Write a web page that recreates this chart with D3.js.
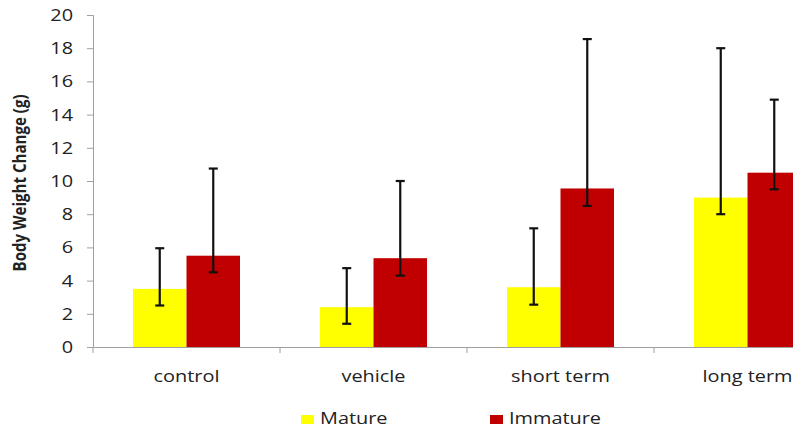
<!DOCTYPE html>
<html>
<head>
<meta charset="utf-8">
<script src="https://cdn.jsdelivr.net/npm/d3@7"></script>
<style>
  body { margin: 0; background: #fff; }
  text { font-family: "Open Sans", Lato, sans-serif; fill: #222; }
</style>
</head>
<body>
<div id="chart"></div>
<script>
// values
const categories = ["control", "vehicle", "short term", "long term"];
const series = ["Mature", "Immature"];
const colors = ["#ffff00", "#c00000"];
const mature = [3.5, 2.4, 3.6, 9.0];
const immature = [5.5, 5.35, 9.55, 10.5];
const matureLow = [2.5, 1.4, 2.55, 8.0];
const matureHigh = [5.95, 4.75, 7.15, 18.0];
const immatureLow = [4.5, 4.3, 8.5, 9.5];
const immatureHigh = [10.75, 10.0, 18.55, 14.9];
const yTicks = [0, 2, 4, 6, 8, 10, 12, 14, 16, 18, 20];

const width = 793, height = 430;
const stretch = 1.17; // the original text is a bit wide

const svg = d3.select("#chart").append("svg")
    .attr("width", width)
    .attr("height", height);

const x = d3.scaleBand()
    .domain(categories)
    .range([93, 841]);

const xs = d3.scaleBand()
    .domain(series)
    .range([40, x.bandwidth() - 40]);

const y = d3.scaleLinear()
    .domain([0, 20])
    .range([347, 15]);

const rows = categories.map((c, i) => [
    {cat: c, s: series[0], v: mature[i], lo: matureLow[i], hi: matureHigh[i], color: colors[0]},
    {cat: c, s: series[1], v: immature[i], lo: immatureLow[i], hi: immatureHigh[i], color: colors[1]}
]).flat();

// axes
const yAxis = svg.append("g")
    .attr("transform", "translate(93,0)")
    .call(d3.axisLeft(y).tickValues(yTicks).tickSize(6));
yAxis.select(".domain").attr("stroke", "#a0a0a0");
yAxis.selectAll(".tick line").attr("stroke", "#a0a0a0");
yAxis.selectAll(".tick text")
    .attr("x", -20 / stretch)
    .attr("transform", `scale(${stretch},1)`)
    .style("font-size", "17px").attr("fill", "#222");

// bars
svg.append("g").selectAll("rect")
    .data(rows)
    .join("rect")
    .attr("x", d => x(d.cat) + xs(d.s))
    .attr("width", xs.bandwidth())
    .attr("y", d => y(d.v))
    .attr("height", d => y(0) - y(d.v))
    .attr("fill", d => d.color);

const xAxis = svg.append("g")
    .attr("transform", "translate(0,347)")
    .call(d3.axisBottom(x).tickSize(0));
xAxis.select(".domain").attr("stroke", "#a0a0a0");
xAxis.selectAll(".tick text")
    .attr("y", 35).attr("dy", null)
    .attr("transform", `scale(${stretch},1)`)
    .style("font-size", "17px").attr("fill", "#222");

// category boundary ticks
svg.append("g").selectAll("line")
    .data(categories.concat(["end"]))
    .join("line")
    .attr("x1", (d, i) => x.range()[0] + i * x.bandwidth())
    .attr("x2", (d, i) => x.range()[0] + i * x.bandwidth())
    .attr("y1", 347)
    .attr("y2", 353)
    .attr("stroke", "#a0a0a0");

// error bars
const err = svg.append("g").attr("stroke", "#111").attr("stroke-width", 2.2);
rows.forEach(d => {
    const cx = x(d.cat) + xs(d.s) + xs.bandwidth() / 2;
    err.append("line").attr("x1", cx).attr("x2", cx).attr("y1", y(d.lo)).attr("y2", y(d.hi));
    err.append("line").attr("x1", cx - 4.5).attr("x2", cx + 4.5).attr("y1", y(d.lo)).attr("y2", y(d.lo));
    err.append("line").attr("x1", cx - 4.5).attr("x2", cx + 4.5).attr("y1", y(d.hi)).attr("y2", y(d.hi));
});

// y title
svg.append("text")
    .attr("transform", "translate(26,183) rotate(-90) scale(1,1.15)")
    .attr("text-anchor", "middle")
    .attr("textLength", 177)
    .attr("lengthAdjust", "spacingAndGlyphs")
    .style("font-size", "15px")
    .style("font-weight", "bold")
    .text("Body Weight Change (g)");

// legend
const legendX = [301, 490];
const legend = svg.append("g").selectAll("g")
    .data(series)
    .join("g")
    .attr("transform", (d, i) => `translate(${legendX[i]},415)`);
legend.append("rect")
    .attr("width", 13).attr("height", 9)
    .attr("fill", (d, i) => colors[i]);
legend.append("text")
    .attr("x", 19 / stretch).attr("y", 9)
    .attr("transform", `scale(${stretch},1)`)
    .style("font-size", "17px")
    .text(d => d);
</script>
</body>
</html>
